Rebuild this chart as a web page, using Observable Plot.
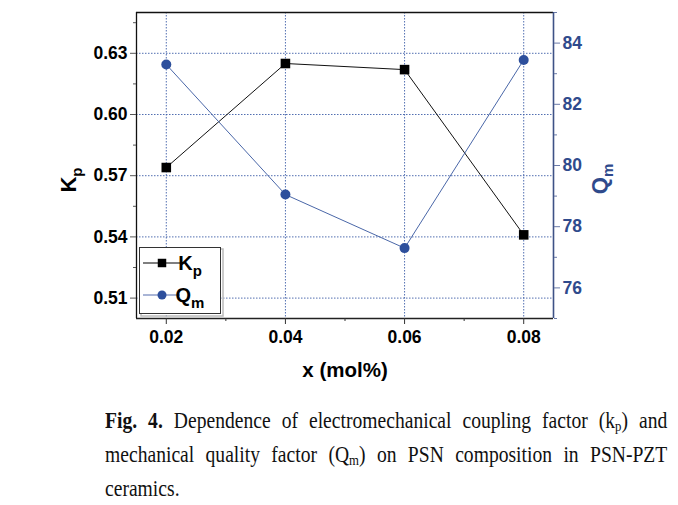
<!DOCTYPE html>
<html>
<head>
<meta charset="utf-8">
<script src="https://cdn.jsdelivr.net/npm/d3@7"></script>
<script src="https://cdn.jsdelivr.net/npm/@observablehq/plot@0.6"></script>
<style>
  html, body { margin: 0; padding: 0; background: #fff; }
  #wrap { position: relative; width: 678px; height: 505px; overflow: hidden; }
  #chart { position: absolute; left: 0; top: 0; }
  #caption { position: absolute; left: 105px; top: 404px; width: 660px; transform: scaleX(0.852); transform-origin: 0 0;
    font-family: "Liberation Serif", "Times New Roman", serif; font-size: 23px; color: #111; line-height: 34px; }
  #caption div { text-align: justify; text-align-last: justify; white-space: nowrap; }
  #caption div.last { text-align-last: left; }
  #caption sub { font-size: 15px; vertical-align: -3px; line-height: 0; }
</style>
</head>
<body>
<div id="wrap">
  <div id="chart"></div>
  <div id="caption">
    <div><b>Fig. 4.</b> Dependence of electromechanical coupling factor (k<sub>p</sub>) and</div>
    <div>mechanical quality factor (Q<sub>m</sub>) on PSN composition in PSN-PZT</div>
    <div class="last">ceramics.</div>
  </div>
</div>
<script>
// ---- data ----
const xValues = [0.02, 0.04, 0.06, 0.08];
const kpValues = [0.574, 0.625, 0.622, 0.541];
const qmValues = [83.3, 79.05, 77.3, 83.45];

const xTicks = [0.02, 0.04, 0.06, 0.08];
const xMinorTicks = [0.03, 0.05, 0.07];
const kpTicks = [0.51, 0.54, 0.57, 0.60, 0.63];
const kpMinorTicks = [0.525, 0.555, 0.585, 0.615, 0.645];
const qmTicks = [76, 78, 80, 82, 84];
const qmMinorTicks = [75, 77, 79, 81, 83, 85];

const xDomain = [0.015, 0.085];
const kpDomain = [0.50, 0.65];
const qmDomain = [75, 85];

// ---- styles ----
const blue = "#2d4f9c";
const blueText = "#2f4a8c";
const gridColor = "#3f5fa8";

const toKp = q => kpDomain[0] + (q - qmDomain[0]) / (qmDomain[1] - qmDomain[0]) * (kpDomain[1] - kpDomain[0]);
const fromKp = v => qmDomain[0] + (v - kpDomain[0]) / (kpDomain[1] - kpDomain[0]) * (qmDomain[1] - qmDomain[0]);

const kpData = xValues.map((x, i) => ({x, y: kpValues[i]}));
const qmData = xValues.map((x, i) => ({x, y: toKp(qmValues[i])}));

const W = 678, H = 390;
const chart = Plot.plot({
  width: W, height: H,
  marginLeft: 136, marginRight: 125, marginTop: 12, marginBottom: 72,
  x: {domain: xDomain},
  y: {domain: kpDomain},
  style: {fontFamily: "'Liberation Sans', Arial, sans-serif", fontWeight: "bold", fontSize: "17.5px", background: "white", color: "#000", overflow: "visible"},
  marks: [
    Plot.gridY(kpTicks, {stroke: gridColor, strokeOpacity: 0.9, strokeWidth: 1, strokeDasharray: "1.5,1.5"}),
    Plot.gridX(xTicks, {stroke: gridColor, strokeOpacity: 0.9, strokeWidth: 1, strokeDasharray: "1.5,1.5"}),
    // frame
    Plot.ruleY([kpDomain[1]], {stroke: "#111", strokeWidth: 1.3}),
    Plot.ruleY([kpDomain[0]], {stroke: "#222", strokeWidth: 1.3}),
    Plot.ruleX([xDomain[0]], {stroke: "#111", strokeWidth: 1.3}),
    Plot.ruleX([xDomain[1]], {stroke: "#3e5286", strokeWidth: 1.6}),
    // axes
    Plot.axisY(kpTicks, {anchor: "left", tickSize: 6, tickPadding: 3, stroke: "#555", fill: "#000", tickFormat: d => d.toFixed(2), label: null}),
    Plot.axisY(kpMinorTicks, {anchor: "left", tickSize: 3, stroke: "#555", tickFormat: () => "", label: null}),
    Plot.axisY(qmTicks.map(toKp), {anchor: "right", tickSize: 6, tickPadding: 3, stroke: "#6a7aa8", fill: blueText, tickFormat: d => String(Math.round(fromKp(d))), label: null}),
    Plot.axisY(qmMinorTicks.map(toKp), {anchor: "right", tickSize: 3, stroke: "#6a7aa8", tickFormat: () => "", label: null}),
    Plot.axisX(xTicks, {anchor: "bottom", tickSize: 6, tickPadding: 6, stroke: "#333", fill: "#000", tickFormat: d => d.toFixed(2), label: null}),
    Plot.axisX(xMinorTicks, {anchor: "bottom", tickSize: 3, stroke: "#333", tickFormat: () => "", label: null}),
    // series
    Plot.line(kpData, {x: "x", y: "y", stroke: "#111", strokeWidth: 1}),
    Plot.line(qmData, {x: "x", y: "y", stroke: "#4a67a8", strokeWidth: 1}),
    Plot.dot(kpData, {x: "x", y: "y", symbol: "square", r: 5.4, fill: "#000", stroke: "none"}),
    Plot.dot(qmData, {x: "x", y: "y", symbol: "circle", r: 5, fill: blue, stroke: "none"})
  ]
});
document.getElementById("chart").appendChild(chart);

// ---- axis titles and legend ----
const svg = d3.select(chart);
const fam = "'Liberation Sans', Arial, sans-serif";

const kpLab = svg.append("text").attr("transform", "translate(76,180) rotate(-90)")
  .attr("text-anchor", "middle").attr("font-family", fam).attr("font-weight", "bold")
  .attr("font-size", 22).attr("fill", "#000");
kpLab.append("tspan").text("K");
kpLab.append("tspan").attr("dy", 6).attr("font-size", 15).text("p");

const qmLab = svg.append("text").attr("transform", "translate(607,179) rotate(-90)")
  .attr("text-anchor", "middle").attr("font-family", fam).attr("font-weight", "bold")
  .attr("font-size", 22).attr("fill", blueText);
qmLab.append("tspan").text("Q");
qmLab.append("tspan").attr("dy", 6).attr("font-size", 15).text("m");

svg.append("text").attr("x", 345).attr("y", 377).attr("text-anchor", "middle")
  .attr("font-family", fam).attr("font-weight", "bold").attr("font-size", 20.5).attr("fill", "#000")
  .text("x (mol%)");

// legend
const lg = svg.append("g");
lg.append("rect").attr("x", 141).attr("y", 249).attr("width", 82).attr("height", 67)
  .attr("fill", "none").attr("stroke", "#bbb").attr("stroke-width", 1.5);
lg.append("rect").attr("x", 139.5).attr("y", 247.5).attr("width", 81).attr("height", 66)
  .attr("fill", "white").attr("stroke", "#333").attr("stroke-width", 1);
lg.append("line").attr("x1", 143).attr("x2", 180).attr("y1", 263).attr("y2", 263).attr("stroke", "#555").attr("stroke-width", 1.3);
lg.append("path").attr("d", d3.symbol(d3.symbolSquare, 72)()).attr("transform", "translate(162,263)").attr("fill", "#000");
lg.append("line").attr("x1", 143).attr("x2", 180).attr("y1", 295).attr("y2", 295).attr("stroke", "#8c9cc8").attr("stroke-width", 1.3);
lg.append("circle").attr("cx", 162).attr("cy", 295).attr("r", 4.5).attr("fill", blue);
const l1 = lg.append("text").attr("x", 190).attr("y", 270).attr("font-family", fam).attr("font-weight", "bold").attr("font-size", 20).attr("fill", "#000");
l1.append("tspan").text("K");
l1.append("tspan").attr("dy", 6).attr("font-size", 15).text("p");
const l2 = lg.append("text").attr("x", 190).attr("y", 302).attr("font-family", fam).attr("font-weight", "bold").attr("font-size", 20).attr("fill", "#000");
l2.append("tspan").text("Q");
l2.append("tspan").attr("dy", 6).attr("font-size", 15).text("m");
</script>
</body>
</html>
